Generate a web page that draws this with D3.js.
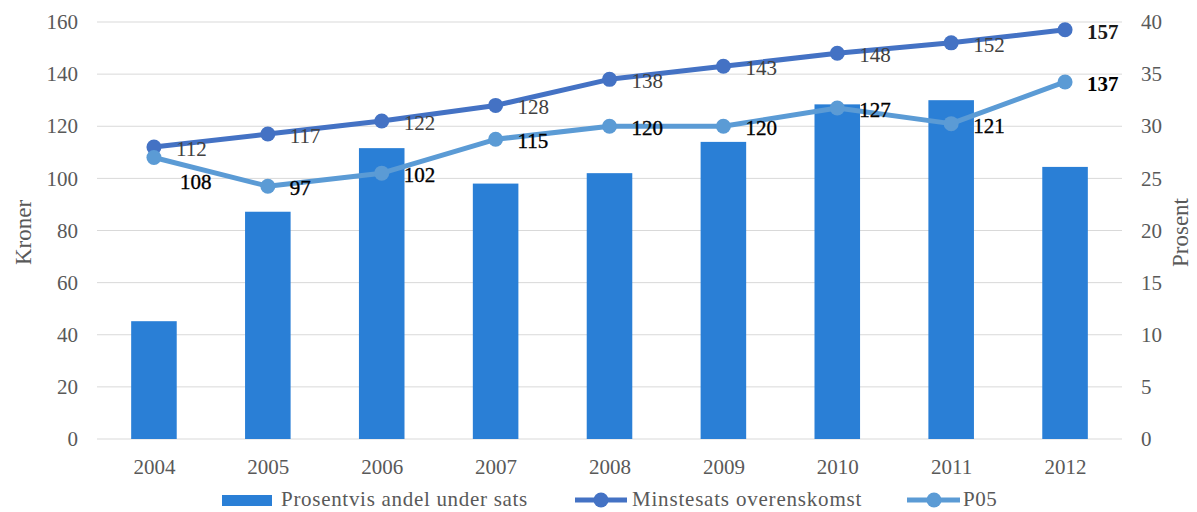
<!DOCTYPE html>
<html><head><meta charset="utf-8">
<script src="https://cdnjs.cloudflare.com/ajax/libs/d3/7.8.5/d3.min.js"></script>
<style>body{margin:0;background:#fff;}svg{display:block;}</style>
</head><body><svg id="c" width="1197" height="512"></svg>
<script>
const years = ["2004","2005","2006","2007","2008","2009","2010","2011","2012"];
const prosent = [11.3, 21.8, 27.9, 24.5, 25.5, 28.5, 32.1, 32.5, 26.1];
const minstesats = [112, 117, 122, 128, 138, 143, 148, 152, 157];
const p05 = [108, 97, 102, 115, 120, 120, 127, 121, 137];
const leftTicks = [0,20,40,60,80,100,120,140,160];
const rightTicks = [0,5,10,15,20,25,30,35,40];
const seriesNames = ["Prosentvis andel under sats","Minstesats overenskomst","P05"];

const svg = d3.select("#c");
const L = 97, R = 1122, T = 22, B = 439;
const font = "'Liberation Serif', serif";
const x = d3.scaleBand().domain(years).range([L, R]).paddingInner(0.6).paddingOuter(0.3);
const xc = d3.scalePoint().domain(years).range([L, R]).padding(0.5);
const yL = d3.scaleLinear().domain([0,160]).range([B, T]);
const yR = d3.scaleLinear().domain([0,40]).range([B, T]);

// gridlines
svg.append("g").selectAll("line").data(leftTicks).join("line")
  .attr("x1", L).attr("x2", R).attr("y1", d=>yL(d)).attr("y2", d=>yL(d))
  .attr("stroke", "#d9d9d9").attr("stroke-width", 1);

// left axis
const gl = svg.append("g").attr("transform", `translate(${L},0)`)
  .call(d3.axisLeft(yL).tickValues(leftTicks).tickSize(0).tickPadding(19));
gl.select(".domain").remove();
gl.selectAll("text").attr("font-family", font).attr("font-size", 21).attr("fill", "#595959");

const gr = svg.append("g").attr("transform", `translate(${R},0)`)
  .call(d3.axisRight(yR).tickValues(rightTicks).tickSize(0).tickPadding(19));
gr.select(".domain").remove();
gr.selectAll("text").attr("font-family", font).attr("font-size", 21).attr("fill", "#595959");

const gx = svg.append("g").attr("transform", `translate(0,${B})`)
  .call(d3.axisBottom(xc).tickSize(0).tickPadding(20));
gx.select(".domain").remove();
gx.selectAll("text").attr("font-family", font).attr("font-size", 21).attr("fill", "#595959");

// axis titles
svg.append("text").attr("transform", `translate(31,${(T+B)/2 + 2}) rotate(-90)`)
  .attr("text-anchor","middle").attr("font-family", font).attr("font-size", 23).attr("fill","#595959").text("Kroner");
svg.append("text").attr("transform", `translate(1188,${(T+B)/2 + 2}) rotate(-90)`)
  .attr("text-anchor","middle").attr("font-family", font).attr("font-size", 23).attr("fill","#595959").text("Prosent");

// bars
const barColor = "#2A7FD6", c1 = "#4472C4", c2 = "#5B9BD5";
svg.append("g").selectAll("rect").data(prosent).join("rect")
  .attr("x", (d,i)=>x(years[i])).attr("width", x.bandwidth())
  .attr("y", d=>yR(d)).attr("height", d=>B - yR(d)).attr("fill", barColor);

// lines
function drawLine(vals, color){
  const line = d3.line().x((d,i)=>xc(years[i])).y(d=>yL(d));
  svg.append("path").datum(vals).attr("d", line).attr("fill","none")
    .attr("stroke", color).attr("stroke-width", 5).attr("stroke-linejoin","round");
  svg.append("g").selectAll("circle").data(vals).join("circle")
    .attr("cx",(d,i)=>xc(years[i])).attr("cy", d=>yL(d)).attr("r", 7.5).attr("fill", color);
}
drawLine(minstesats, c1);
drawLine(p05, c2);

// labels
svg.append("g").selectAll("text").data(minstesats).join("text")
  .attr("x",(d,i)=>xc(years[i]) + 22).attr("y",(d,i)=>yL(d) + 9)
  .attr("font-family", font).attr("font-size", 21)
  .attr("fill",(d,i)=> i===8 ? "#1a1a1a" : "#404040")
  .attr("font-weight",(d,i)=> i===8 ? "bold" : "normal")
  .text(d=>d);
svg.append("g").selectAll("text").data(p05).join("text")
  .attr("x",(d,i)=>xc(years[i]) + (i===0 ? 26 : 22)).attr("y",(d,i)=>yL(d) + (i===0 ? 31 : 9))
  .attr("font-family", font).attr("font-size", 21).attr("fill","#000")
  .attr("font-weight",(d,i)=> i===8 ? "bold" : "normal")
  .attr("stroke","#000").attr("stroke-width",(d,i)=> i===8 ? 0 : 0.35)
  .text(d=>d);

// legend
const lg = svg.append("g");
const ly = 500;
lg.append("rect").attr("x",222).attr("y",ly-5).attr("width",50).attr("height",11).attr("fill",barColor);
lg.append("text").attr("x",281).attr("y",ly+6).attr("font-family",font).attr("font-size",21).attr("letter-spacing",0.7).attr("fill","#595959").text(seriesNames[0]);
lg.append("line").attr("x1",575).attr("x2",627).attr("y1",ly).attr("y2",ly).attr("stroke",c1).attr("stroke-width",5);
lg.append("circle").attr("cx",601).attr("cy",ly).attr("r",7.5).attr("fill",c1);
lg.append("text").attr("x",632).attr("y",ly+6).attr("font-family",font).attr("font-size",21).attr("letter-spacing",0.8).attr("fill","#595959").text(seriesNames[1]);
lg.append("line").attr("x1",907).attr("x2",960).attr("y1",ly).attr("y2",ly).attr("stroke",c2).attr("stroke-width",5);
lg.append("circle").attr("cx",934).attr("cy",ly).attr("r",7.5).attr("fill",c2);
lg.append("text").attr("x",963).attr("y",ly+6).attr("font-family",font).attr("font-size",21).attr("letter-spacing",0.5).attr("fill","#595959").text(seriesNames[2]);
</script></body></html>
